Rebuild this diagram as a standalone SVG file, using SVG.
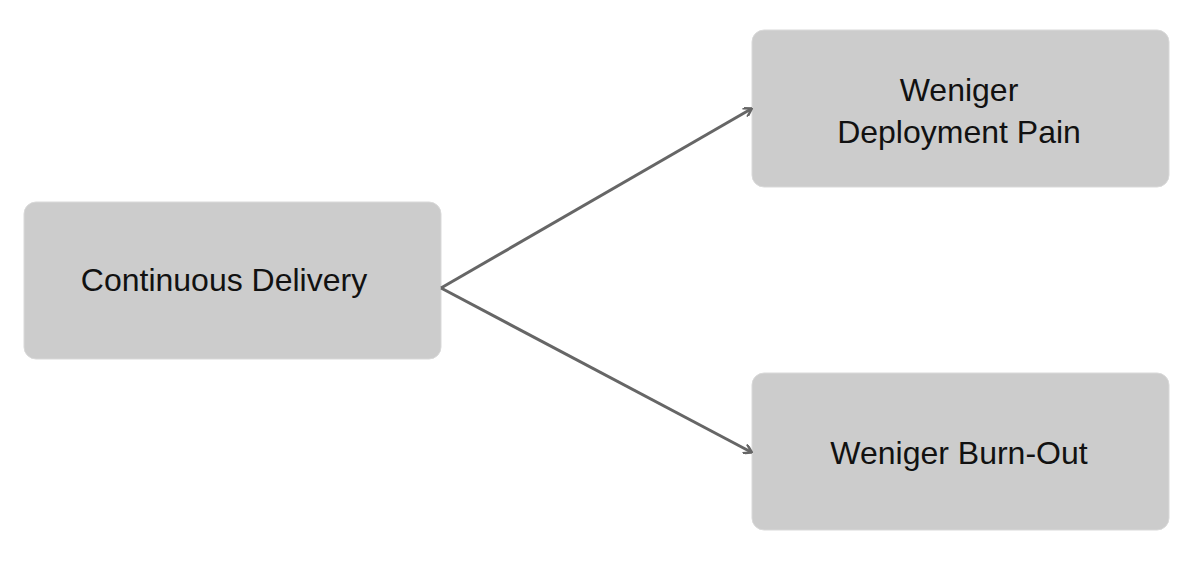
<svg xmlns="http://www.w3.org/2000/svg" width="1179" height="561" viewBox="0 0 1179 561">
<style>
.box{fill:#cccccc;stroke:#d9d9d9;stroke-width:1}
.t{font-family:"Liberation Sans",Arial,sans-serif;font-size:32px;fill:#111;text-anchor:middle}
.c{stroke:#666;stroke-width:3;fill:none}
</style>
<defs><marker id="a" markerWidth="10" markerHeight="10" refX="8" refY="5" orient="auto" markerUnits="userSpaceOnUse"><path d="M1,0 L9,5 L1,10" fill="none" stroke="#666" stroke-width="2.5"/></marker></defs>
<rect width="1179" height="561" fill="#fff"/>
<g id="n1"><rect class="box" x="24" y="202" width="417" height="157" rx="12"/><text class="t" x="224" y="291">Continuous Delivery</text></g>
<g id="n2"><rect class="box" x="752" y="30" width="417" height="157" rx="12"/><text class="t" x="959" y="101">Weniger</text><text class="t" x="959" y="143">Deployment Pain</text></g>
<g id="n3"><rect class="box" x="752" y="373" width="417" height="157" rx="12"/><text class="t" x="959" y="464">Weniger Burn-Out</text></g>
<g id="connectors"><path class="c" d="M441,288 L751,109" marker-end="url(#a)"/><path class="c" d="M441,288 L751,452" marker-end="url(#a)"/></g>
</svg>
